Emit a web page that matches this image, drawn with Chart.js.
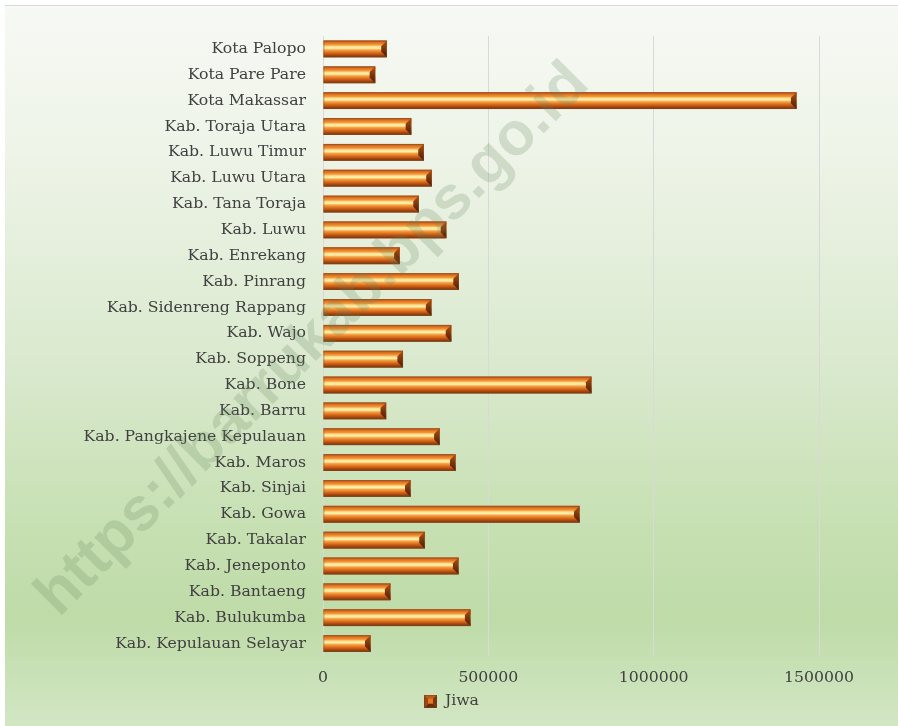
<!DOCTYPE html>
<html>
<head>
<meta charset="utf-8">
<title>Jumlah Penduduk Sulawesi Selatan</title>
<script src="https://cdn.jsdelivr.net/npm/chart.js@4.4.1/dist/chart.umd.min.js"></script>
<style>
  html, body { margin: 0; padding: 0; background: #fff; }
  #wrap { position: absolute; left: 5px; top: 5px; width: 893px; height: 721px; }
  canvas { display: block; }
</style>
</head>
<body>
<div id="wrap"><canvas id="popChart"></canvas></div>
<script>
// kabupaten / kota, in region-code order (drawn bottom to top)
const regions = [
  'Kab. Kepulauan Selayar', 'Kab. Bulukumba', 'Kab. Bantaeng', 'Kab. Jeneponto',
  'Kab. Takalar', 'Kab. Gowa', 'Kab. Sinjai', 'Kab. Maros',
  'Kab. Pangkajene Kepulauan', 'Kab. Barru', 'Kab. Bone', 'Kab. Soppeng',
  'Kab. Wajo', 'Kab. Sidenreng Rappang', 'Kab. Pinrang', 'Kab. Enrekang',
  'Kab. Luwu', 'Kab. Tana Toraja', 'Kab. Luwu Utara', 'Kab. Luwu Timur',
  'Kab. Toraja Utara', 'Kota Makassar', 'Kota Pare Pare', 'Kota Palopo'
];
// penduduk (jiwa)
const population = [
  144000, 446000, 204000, 410000,
  308000, 776000, 265000, 401000,
  353000, 191000, 812000, 242000,
  388000, 328000, 411000, 232000,
  373000, 290000, 329000, 305000,
  267000, 1432000, 158000, 193000
];
const xTicks = [0, 500000, 1000000, 1500000];
const seriesName = 'Jiwa';
const watermarkText = 'https://barrukab.bps.go.id';

const LABEL_FONT = { family: '"DejaVu Serif", "Liberation Serif", serif', size: 15.7 };
const TEXT_COLOR = '#404040';

// copper bar with a highlight stripe and a bevelled right end
function paintBar(ctx, left, right, top, bottom) {
  const h = bottom - top;
  const w = right - left;
  if (w <= 0) return;
  const b = Math.min(6, h / 3, w / 2);

  const g = ctx.createLinearGradient(0, top, 0, bottom);
  g.addColorStop(0, '#b04e12');
  g.addColorStop(0.12, '#e0701e');
  g.addColorStop(0.26, '#f29a3c');
  g.addColorStop(0.36, '#ffe392');
  g.addColorStop(0.46, '#fff0b0');
  g.addColorStop(0.56, '#f5a544');
  g.addColorStop(0.72, '#de6c1c');
  g.addColorStop(0.87, '#a8480e');
  g.addColorStop(1, '#743008');
  ctx.fillStyle = g;
  ctx.fillRect(left, top, w, h);

  const e = ctx.createLinearGradient(0, top, 0, bottom);
  e.addColorStop(0, '#b4520f');
  e.addColorStop(0.5, '#7e3408');
  e.addColorStop(1, '#4a1c04');
  ctx.fillStyle = e;
  ctx.beginPath();
  ctx.moveTo(right - b, top + b);
  ctx.lineTo(right, top);
  ctx.lineTo(right, bottom);
  ctx.lineTo(right - b, bottom - b);
  ctx.closePath();
  ctx.fill();

  ctx.strokeStyle = 'rgba(110,84,56,0.45)';
  ctx.lineWidth = 1;
  ctx.strokeRect(left + 0.5, top + 0.5, w - 1, h - 1);
}

// legend swatch: small bevelled square
function makeSwatch() {
  const s = 13;
  const c = document.createElement('canvas');
  c.width = s; c.height = s;
  const x = c.getContext('2d');
  x.fillStyle = '#e07a2a';
  x.fillRect(0, 0, s, s);
  const b = 4;
  const tri = (pts, col) => {
    x.fillStyle = col;
    x.beginPath();
    x.moveTo(pts[0], pts[1]);
    for (let i = 2; i < pts.length; i += 2) x.lineTo(pts[i], pts[i + 1]);
    x.closePath();
    x.fill();
  };
  tri([0, 0, s, 0, s - b, b, b, b], '#c05a18');
  tri([0, s, s, s, s - b, s - b, b, s - b], '#6e2c06');
  tri([0, 0, b, b, b, s - b, 0, s], '#a2440c');
  tri([s, 0, s - b, b, s - b, s - b, s, s], '#7c3408');
  x.strokeStyle = 'rgba(90,70,50,0.6)';
  x.strokeRect(0.5, 0.5, s - 1, s - 1);
  return c;
}

const backdrop = {
  id: 'backdrop',
  beforeDraw(chart) {
    const { ctx, width, height } = chart;
    const g = ctx.createLinearGradient(0, 0, 0, height);
    g.addColorStop(0, '#f7f9f4');
    g.addColorStop(0.2, '#eef4e8');
    g.addColorStop(0.5, '#dae9ce');
    g.addColorStop(0.72, '#c7e0b3');
    g.addColorStop(0.85, '#bfdba8');
    g.addColorStop(1, '#d2e6c4');
    ctx.save();
    ctx.fillStyle = g;
    ctx.fillRect(0, 0, width, height);
    ctx.fillStyle = '#d9d9d9';
    ctx.fillRect(0, 0, width, 1);
    ctx.restore();
  }
};

const copperBars = {
  id: 'copperBars',
  afterDatasetsDraw(chart) {
    const { ctx } = chart;
    const meta = chart.getDatasetMeta(0);
    ctx.save();
    meta.data.forEach(bar => {
      const p = bar.getProps(['x', 'y', 'base', 'height'], true);
      paintBar(ctx, Math.min(p.base, p.x), Math.max(p.base, p.x), p.y - p.height / 2, p.y + p.height / 2);
    });
    ctx.restore();
  }
};

const stamp = {
  id: 'stamp',
  afterDraw(chart) {
    const { ctx } = chart;
    ctx.save();
    ctx.translate(320, 347);
    ctx.rotate(-Math.PI / 4);
    ctx.font = 'bold 61px "Liberation Sans", Arial, sans-serif';
    ctx.fillStyle = 'rgba(100,130,90,0.22)';
    ctx.textAlign = 'center';
    ctx.textBaseline = 'alphabetic';
    ctx.fillText(watermarkText, 0, 0);
    ctx.restore();
  }
};

new Chart(document.getElementById('popChart'), {
  type: 'bar',
  data: {
    labels: regions,
    datasets: [{
      label: seriesName,
      data: population,
      backgroundColor: '#e07a2a',
      borderWidth: 0,
      barPercentage: 1,
      categoryPercentage: 0.65,
      pointStyle: makeSwatch()
    }]
  },
  options: {
    indexAxis: 'y',
    responsive: true,
    maintainAspectRatio: false,
    animation: false,
    layout: { padding: { top: 31, right: 0, bottom: 7, left: 0 } },
    scales: {
      x: {
        min: 0,
        max: 1500000,
        afterBuildTicks: scale => { scale.ticks = xTicks.map(v => ({ value: v })); },
        afterFit: scale => { scale.height -= 11; },
        grid: { color: '#d9d9d9', lineWidth: 1, drawTicks: false },
        border: { display: false },
        ticks: {
          color: TEXT_COLOR,
          font: LABEL_FONT,
          padding: 12,
          maxRotation: 0,
          callback: v => String(v)
        }
      },
      y: {
        reverse: true,
        afterFit: scale => { scale.width = 318; },
        grid: { display: false },
        border: { display: false },
        ticks: { color: TEXT_COLOR, font: LABEL_FONT, padding: 9, autoSkip: false }
      },
      // empty strip on the right of the plot
      yRight: {
        type: 'category',
        position: 'right',
        afterFit: scale => { scale.width = 79; },
        grid: { display: false },
        border: { display: false },
        ticks: { display: false }
      }
    },
    plugins: {
      legend: {
        position: 'bottom',
        labels: {
          usePointStyle: true,
          boxWidth: 13,
          boxHeight: 13,
          color: TEXT_COLOR,
          font: LABEL_FONT,
          padding: 5
        }
      },
      tooltip: { enabled: false }
    }
  },
  plugins: [backdrop, copperBars, stamp]
});
</script>
</body>
</html>
